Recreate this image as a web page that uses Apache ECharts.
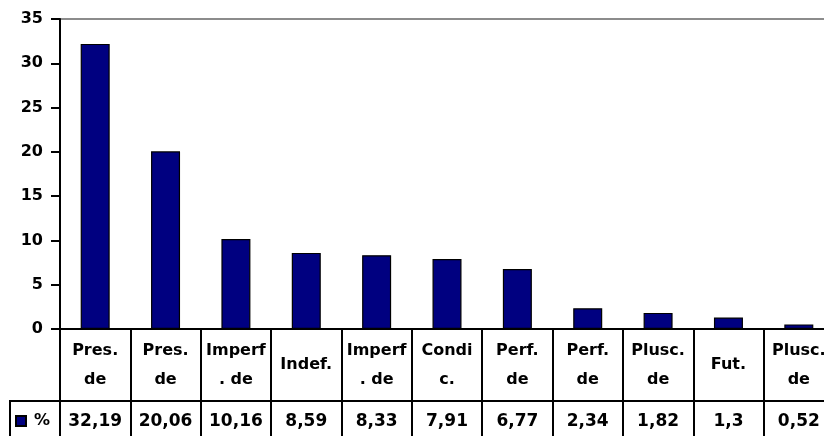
<!DOCTYPE html>
<html>
<head>
<meta charset="utf-8">
<script src="https://cdn.jsdelivr.net/npm/echarts@6/dist/echarts.min.js"></script>
<style>html,body{margin:0;padding:0;background:#fff;}#c{width:824px;height:436px;}</style>
</head>
<body>
<div id="c"></div>
<script>
var categories = ["Pres.\nde", "Pres.\nde", "Imperf\n. de", "Indef.", "Imperf\n. de", "Condi\nc.", "Perf.\nde", "Perf.\nde", "Plusc.\nde", "Fut.", "Plusc.\nde"];
var values = [32.19, 20.06, 10.16, 8.59, 8.33, 7.91, 6.77, 2.34, 1.82, 1.3, 0.52];
var seriesName = "%";
var yTicks = [0, 5, 10, 15, 20, 25, 30, 35];

var FONT = "DejaVu Sans";
var chart = echarts.init(document.getElementById('c'), null, {renderer: 'canvas'});
function fmt(v) { return String(v).replace('.', ','); }

chart.setOption({
  animation: false,
  backgroundColor: '#fff',
  textStyle: {fontFamily: FONT},
  legend: {
    data: [seriesName],
    left: 15, top: 413,
    icon: 'rect', itemWidth: 10, itemHeight: 10, itemGap: 4,
    textStyle: {fontFamily: FONT, fontWeight: 'bold', fontSize: 16, color: '#000', padding: [0, 0, 0, 3]},
    padding: 0
  },
  grid: [
    {left: 60, top: 19, width: 774, height: 310, show: true, borderColor: '#8c8c8c', borderWidth: 2, backgroundColor: 'transparent', outerBoundsMode: 'none', containLabel: false},
    {left: 60, top: 400, width: 774, height: 1, outerBoundsMode: 'none', containLabel: false}
  ],
  xAxis: [
    {
      type: 'category', gridIndex: 0, data: categories,
      axisLine: {lineStyle: {color: '#000', width: 2}},
      axisTick: {show: true, length: 107, interval: 0, lineStyle: {color: '#000', width: 2}},
      axisLabel: {
        interval: 0, margin: 36, verticalAlign: 'middle', color: '#000',
        fontFamily: FONT, fontWeight: 'bold', fontSize: 16, lineHeight: 29
      }
    },
    {
      type: 'category', gridIndex: 1, data: categories,
      axisLine: {lineStyle: {color: '#000', width: 2}},
      axisTick: {show: false},
      axisLabel: {
        interval: 0, margin: 21, verticalAlign: 'middle', color: '#000',
        fontFamily: FONT, fontWeight: 'bold', fontSize: 17,
        formatter: function (v, i) { return fmt(values[i]); }
      }
    }
  ],
  yAxis: [
    {
      type: 'value', gridIndex: 0, min: yTicks[0], max: yTicks[yTicks.length - 1], interval: 5,
      axisLine: {show: true, lineStyle: {color: '#000', width: 2}},
      axisTick: {show: true, length: 9, lineStyle: {color: '#000', width: 2}},
      splitLine: {show: false},
      axisLabel: {margin: 17, color: '#000', fontFamily: FONT, fontWeight: 'bold', fontSize: 16}
    },
    {type: 'value', gridIndex: 1, show: false}
  ],
  graphic: [
    {type: 'line', shape: {x1: 10, y1: 401, x2: 61, y2: 401}, style: {stroke: '#000', lineWidth: 2}},
    {type: 'line', shape: {x1: 10, y1: 400, x2: 10, y2: 436}, style: {stroke: '#000', lineWidth: 2}}
  ],
  series: [{
    name: seriesName, type: 'bar', xAxisIndex: 0, yAxisIndex: 0,
    data: values, barWidth: 29,
    itemStyle: {color: '#000080', borderColor: '#000', borderWidth: 1.2}
  }]
});
</script>
</body>
</html>
